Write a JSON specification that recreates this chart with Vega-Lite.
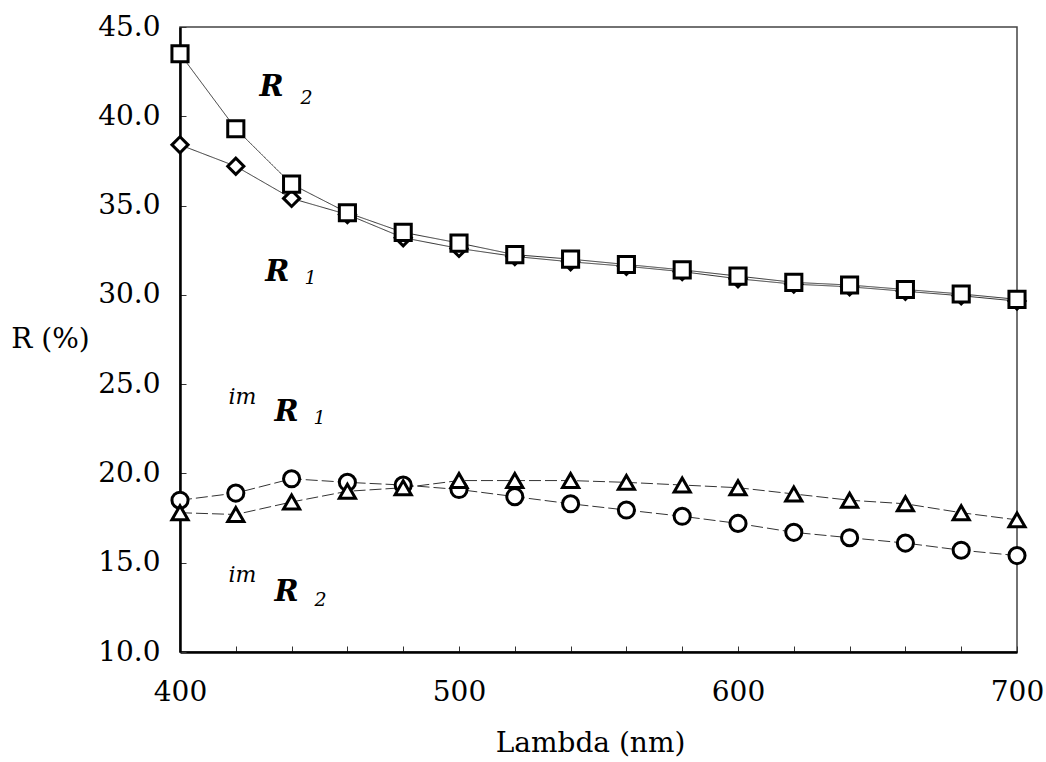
{
  "$schema": "https://vega.github.io/schema/vega-lite/v6.json",
  "width": 837,
  "height": 625,
  "autosize": "none",
  "padding": {"left": 180, "top": 27, "right": 29, "bottom": 110},
  "background": "white",
  "config": {
    "font": "DejaVu Serif",
    "view": {"stroke": "#444", "strokeWidth": 1.5},
    "axis": {
      "grid": false,
      "domainColor": "black",
      "domainWidth": 2.5,
      "tickColor": "#333",
      "tickWidth": 1,
      "tickSize": -6,
      "labelFont": "DejaVu Serif",
      "labelFontSize": 28,
      "labelColor": "black",
      "titleFont": "DejaVu Serif",
      "titleFontSize": 28,
      "titleFontWeight": "normal",
      "titleColor": "black"
    }
  },
  "datasets": {
    "curves": [
      {"lambda": 400, "R": 38.4, "series": "R1"},
      {"lambda": 420, "R": 37.2, "series": "R1"},
      {"lambda": 440, "R": 35.4, "series": "R1"},
      {"lambda": 460, "R": 34.5, "series": "R1"},
      {"lambda": 480, "R": 33.2, "series": "R1"},
      {"lambda": 500, "R": 32.6, "series": "R1"},
      {"lambda": 520, "R": 32.15, "series": "R1"},
      {"lambda": 540, "R": 31.85, "series": "R1"},
      {"lambda": 560, "R": 31.6, "series": "R1"},
      {"lambda": 580, "R": 31.3, "series": "R1"},
      {"lambda": 600, "R": 30.9, "series": "R1"},
      {"lambda": 620, "R": 30.6, "series": "R1"},
      {"lambda": 640, "R": 30.45, "series": "R1"},
      {"lambda": 660, "R": 30.2, "series": "R1"},
      {"lambda": 680, "R": 29.95, "series": "R1"},
      {"lambda": 700, "R": 29.65, "series": "R1"},
      {"lambda": 400, "R": 43.5, "series": "R2"},
      {"lambda": 420, "R": 39.3, "series": "R2"},
      {"lambda": 440, "R": 36.2, "series": "R2"},
      {"lambda": 460, "R": 34.6, "series": "R2"},
      {"lambda": 480, "R": 33.5, "series": "R2"},
      {"lambda": 500, "R": 32.9, "series": "R2"},
      {"lambda": 520, "R": 32.25, "series": "R2"},
      {"lambda": 540, "R": 32.0, "series": "R2"},
      {"lambda": 560, "R": 31.7, "series": "R2"},
      {"lambda": 580, "R": 31.4, "series": "R2"},
      {"lambda": 600, "R": 31.05, "series": "R2"},
      {"lambda": 620, "R": 30.7, "series": "R2"},
      {"lambda": 640, "R": 30.55, "series": "R2"},
      {"lambda": 660, "R": 30.3, "series": "R2"},
      {"lambda": 680, "R": 30.05, "series": "R2"},
      {"lambda": 700, "R": 29.75, "series": "R2"},
      {"lambda": 400, "R": 18.5, "series": "imR2"},
      {"lambda": 420, "R": 18.9, "series": "imR2"},
      {"lambda": 440, "R": 19.7, "series": "imR2"},
      {"lambda": 460, "R": 19.5, "series": "imR2"},
      {"lambda": 480, "R": 19.35, "series": "imR2"},
      {"lambda": 500, "R": 19.1, "series": "imR2"},
      {"lambda": 520, "R": 18.7, "series": "imR2"},
      {"lambda": 540, "R": 18.3, "series": "imR2"},
      {"lambda": 560, "R": 17.95, "series": "imR2"},
      {"lambda": 580, "R": 17.6, "series": "imR2"},
      {"lambda": 600, "R": 17.2, "series": "imR2"},
      {"lambda": 620, "R": 16.7, "series": "imR2"},
      {"lambda": 640, "R": 16.4, "series": "imR2"},
      {"lambda": 660, "R": 16.1, "series": "imR2"},
      {"lambda": 680, "R": 15.7, "series": "imR2"},
      {"lambda": 700, "R": 15.4, "series": "imR2"},
      {"lambda": 400, "R": 17.8, "series": "imR1"},
      {"lambda": 420, "R": 17.7, "series": "imR1"},
      {"lambda": 440, "R": 18.4, "series": "imR1"},
      {"lambda": 460, "R": 19.0, "series": "imR1"},
      {"lambda": 480, "R": 19.2, "series": "imR1"},
      {"lambda": 500, "R": 19.6, "series": "imR1"},
      {"lambda": 520, "R": 19.6, "series": "imR1"},
      {"lambda": 540, "R": 19.6, "series": "imR1"},
      {"lambda": 560, "R": 19.5, "series": "imR1"},
      {"lambda": 580, "R": 19.35, "series": "imR1"},
      {"lambda": 600, "R": 19.2, "series": "imR1"},
      {"lambda": 620, "R": 18.85, "series": "imR1"},
      {"lambda": 640, "R": 18.5, "series": "imR1"},
      {"lambda": 660, "R": 18.3, "series": "imR1"},
      {"lambda": 680, "R": 17.8, "series": "imR1"},
      {"lambda": 700, "R": 17.4, "series": "imR1"}
    ],
    "labels": [
      {"x": 432.8, "y": 41.64, "text": "R", "kind": "main"},
      {"x": 445.4, "y": 41.02, "text": "2", "kind": "sub"},
      {"x": 434.9, "y": 31.28, "text": "R", "kind": "main"},
      {"x": 446.8, "y": 30.94, "text": "1", "kind": "sub"},
      {"x": 422.4, "y": 24.28, "text": "im", "kind": "sup"},
      {"x": 438.2, "y": 23.44, "text": "R", "kind": "main"},
      {"x": 450.0, "y": 23.1, "text": "1", "kind": "sub"},
      {"x": 422.4, "y": 14.31, "text": "im", "kind": "sup"},
      {"x": 438.2, "y": 13.36, "text": "R", "kind": "main"},
      {"x": 450.4, "y": 12.9, "text": "2", "kind": "sub"}
    ]
  },
  "encoding": {
    "x": {
      "field": "lambda",
      "type": "quantitative",
      "scale": {"domain": [400, 700], "nice": false, "zero": false},
      "axis": {
        "title": "Lambda (nm)",
        "values": [400, 420, 440, 460, 480, 500, 520, 540, 560, 580, 600, 620, 640, 660, 680, 700],
        "labelExpr": "datum.value % 100 == 0 ? datum.label : ''",
        "labelFlush": false,
        "labelBound": false,
        "labelOverlap": false,
        "labelPadding": 32,
        "titleX": 410,
        "titleY": 91,
        "titleBaseline": "middle"
      }
    },
    "y": {
      "field": "R",
      "type": "quantitative",
      "scale": {"domain": [10, 45], "nice": false, "zero": false},
      "axis": {
        "title": "R (%)",
        "values": [10, 15, 20, 25, 30, 35, 40, 45],
        "format": ".1f",
        "labelFlush": false,
        "labelBound": false,
        "labelOverlap": false,
        "labelPadding": 26,
        "titleAngle": 0,
        "titleAlign": "center",
        "titleBaseline": "middle",
        "titleX": -130,
        "titleY": 312
      }
    }
  },
  "layer": [
    {
      "data": {"name": "curves"},
      "mark": {"type": "line", "color": "#333", "strokeWidth": 1},
      "encoding": {
        "detail": {"field": "series"},
        "strokeDash": {
          "field": "series",
          "type": "nominal",
          "scale": {"domain": ["R1", "R2", "imR1", "imR2"], "range": [[1, 0], [1, 0], [12, 4], [12, 4]]},
          "legend": null
        }
      }
    },
    {
      "data": {"name": "curves"},
      "mark": {"type": "point", "filled": false, "fill": "white", "fillOpacity": 1, "stroke": "black", "strokeWidth": 3, "opacity": 1},
      "encoding": {
        "shape": {
          "field": "series",
          "type": "nominal",
          "scale": {"domain": ["R1", "R2", "imR1", "imR2"], "range": ["diamond", "square", "triangle-up", "circle"]},
          "legend": null
        },
        "size": {
          "field": "series",
          "type": "nominal",
          "scale": {"domain": ["R1", "R2", "imR1", "imR2"], "range": [260, 260, 240, 190]},
          "legend": null
        }
      }
    },
    {
      "data": {"name": "labels"},
      "transform": [{"filter": "datum.kind == 'main'"}],
      "mark": {"type": "text", "font": "DejaVu Serif", "fontStyle": "italic", "fontWeight": "bold", "fontSize": 29, "align": "center", "baseline": "middle", "color": "black"},
      "encoding": {
        "x": {"field": "x", "type": "quantitative"},
        "y": {"field": "y", "type": "quantitative"},
        "text": {"field": "text"}
      }
    },
    {
      "data": {"name": "labels"},
      "transform": [{"filter": "datum.kind == 'sub'"}],
      "mark": {"type": "text", "font": "DejaVu Serif", "fontStyle": "italic", "fontSize": 19, "align": "center", "baseline": "middle", "color": "black"},
      "encoding": {
        "x": {"field": "x", "type": "quantitative"},
        "y": {"field": "y", "type": "quantitative"},
        "text": {"field": "text"}
      }
    },
    {
      "data": {"name": "labels"},
      "transform": [{"filter": "datum.kind == 'sup'"}],
      "mark": {"type": "text", "font": "DejaVu Serif", "fontStyle": "italic", "fontSize": 22, "align": "center", "baseline": "middle", "color": "black"},
      "encoding": {
        "x": {"field": "x", "type": "quantitative"},
        "y": {"field": "y", "type": "quantitative"},
        "text": {"field": "text"}
      }
    }
  ]
}
